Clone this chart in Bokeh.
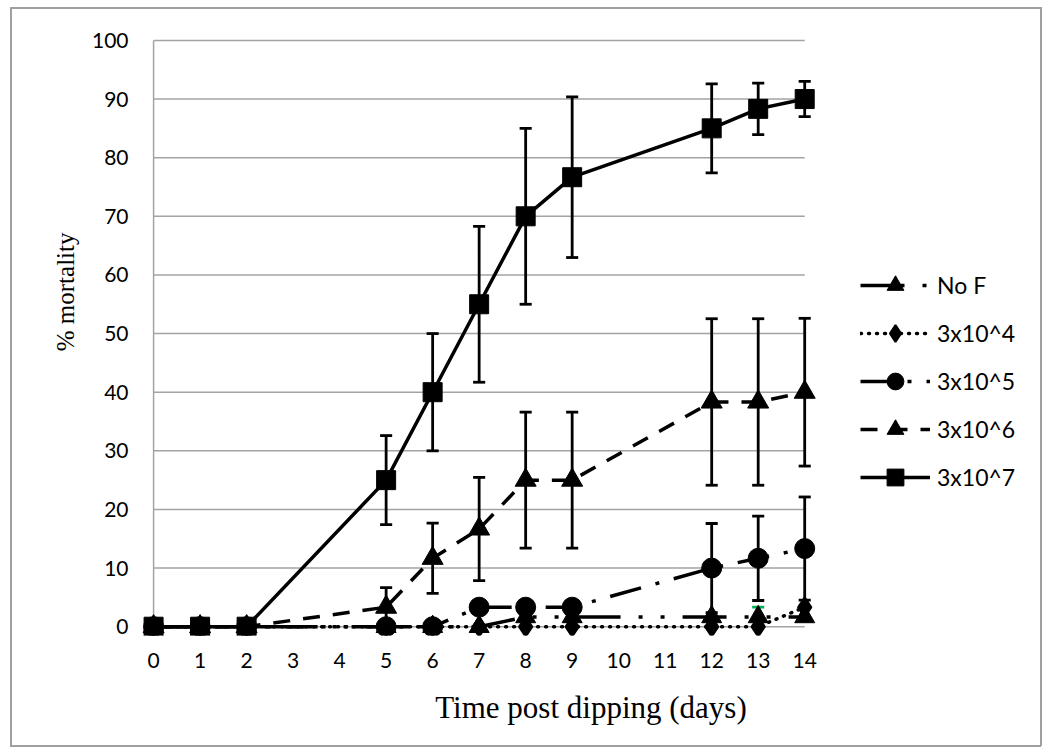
from bokeh.plotting import figure
from bokeh.models import Range1d, FixedTicker, Legend, LegendItem, Title
from bokeh.embed import file_html
from bokeh.resources import INLINE

# ---------------- data ----------------
days = [0, 1, 2, 5, 6, 7, 8, 9, 12, 13, 14]
x_ticks = list(range(0, 15))
y_ticks = [0, 10, 20, 30, 40, 50, 60, 70, 80, 90, 100]

names = ["No F", "3x10^4", "3x10^5", "3x10^6", "3x10^7"]

no_f = [0, 0, 0, 0, 0, 0, 1.67, 1.67, 1.67, 1.67, 1.67]
no_f_err = [0, 0, 0, 0, 0, 0, 0, 0, 0, 1.67, 0]

f_3e4 = [0, 0, 0, 0, 0, 0, 0, 0, 0, 0, 3.33]
f_3e4_err = [0, 0, 0, 0, 0, 0, 0, 0, 0, 0, 0]

f_3e5 = [0, 0, 0, 0, 0, 3.33, 3.33, 3.33, 10, 11.67, 13.33]
f_3e5_err = [0, 0, 0, 0, 0, 0, 0, 0, 7.6, 7.2, 8.8]

f_3e6 = [0, 0, 0, 3.33, 11.67, 16.67, 25, 25, 38.33, 38.33, 40]
f_3e6_err = [0, 0, 0, 3.33, 6, 8.8, 11.6, 11.6, 14.2, 14.2, 12.6]

f_3e7 = [0, 0, 0, 25, 40, 55, 70, 76.67, 85, 88.33, 90]
f_3e7_err = [0, 0, 0, 7.6, 10, 13.3, 15, 13.7, 7.6, 4.4, 3]

values = [no_f, f_3e4, f_3e5, f_3e6, f_3e7]
errors = [no_f_err, f_3e4_err, f_3e5_err, f_3e6_err, f_3e7_err]

# ---------------- styles ----------------
dashes = ["44 18 4 18 4 18", "1 7", "32 15 4 15", "17 13", "solid"]
caps = ["butt", "round", "butt", "butt", "butt"]
markers = ["triangle", "diamond", "circle", "triangle", "square"]
msizes = [20, 20, 20, 21, 19]
mlw = [1, 2, 1, 1, 1]
err_colors = ["#00b050", "black", "black", "black", "black"]
GRID = "#a3a3a3"
BORDER = "#a0a0a0"
TICK_FONT = "Lato"
SERIF = "Liberation Serif"

g = "linear-gradient(%s,%s)" % (BORDER, BORDER)
page_styles = {
    "background-color": "white",
    "background-image": ", ".join([g] * 4),
    "background-size": "1031px 2px, 1031px 2px, 2px 739px, 2px 739px",
    "background-position": "10px 7px, 10px 745px, 10px 7px, 1040px 7px",
    "background-repeat": "no-repeat",
}

p = figure(width=1053, height=748,
           x_range=Range1d(-0.26, 19.07), y_range=Range1d(-1.5, 100.5),
           output_backend="svg", toolbar_location=None,
           min_border_left=141, min_border_right=13,
           min_border_top=37, min_border_bottom=113,
           styles=page_styles)
p.outline_line_color = None
p.xgrid.visible = False
p.ygrid.visible = False
p.background_fill_alpha = 0
p.border_fill_alpha = 0

# axes
p.xaxis.ticker = FixedTicker(ticks=x_ticks)
p.yaxis.ticker = FixedTicker(ticks=y_ticks)
for ax in (p.xaxis, p.yaxis):
    ax.axis_line_color = None
    ax.major_tick_line_color = None
    ax.minor_tick_line_color = None
    ax.major_tick_out = 0
    ax.major_tick_in = 0
    ax.major_label_text_font = TICK_FONT
    ax.major_label_text_font_size = "21px"
    ax.major_label_text_color = "black"
p.xaxis.major_label_standoff = 17
p.yaxis.major_label_standoff = 13
p.xaxis.axis_label = "Time post dipping (days)"
p.xaxis.axis_label_text_font = SERIF
p.xaxis.axis_label_text_font_size = "31px"
p.xaxis.axis_label_text_font_style = "normal"
p.xaxis.axis_label_text_color = "black"
p.xaxis.axis_label_standoff = 19

# y axis title, placed in the left panel
p.add_layout(Title(text="% mortality", align="right", offset=195,
                   vertical_align="middle", text_font=SERIF,
                   text_font_size="25px", text_font_style="normal",
                   text_color="black", standoff=18), "left")

# gridlines from first to last day, and the vertical axis line
p.segment(x0=[days[0]] * len(y_ticks), x1=[days[-1]] * len(y_ticks),
          y0=y_ticks, y1=y_ticks, line_color=GRID, line_width=1.5)
p.segment(x0=[days[0]], x1=[days[0]], y0=[y_ticks[0]], y1=[y_ticks[-1]],
          line_color=GRID, line_width=1.5)

cap_half = 0.13
items = []
for i, name in enumerate(names):
    ys = values[i]
    es = errors[i]
    ex = [d for d, e in zip(days, es) if e > 0]
    ey = [v for v, e in zip(ys, es) if e > 0]
    ee = [e for e in es if e > 0]
    if ex:
        lo = [v - e for v, e in zip(ey, ee)]
        hi = [v + e for v, e in zip(ey, ee)]
        p.segment(x0=ex, x1=ex, y0=lo, y1=hi, line_color=err_colors[i], line_width=2.8)
        p.segment(x0=[x - cap_half for x in ex], x1=[x + cap_half for x in ex],
                  y0=hi, y1=hi, line_color=err_colors[i], line_width=2.8)
        p.segment(x0=[x - cap_half for x in ex], x1=[x + cap_half for x in ex],
                  y0=lo, y1=lo, line_color=err_colors[i], line_width=2.8)
    ln = p.line(days, ys, line_color="black", line_width=3.5,
                line_dash=dashes[i], line_cap=caps[i])
    mk = p.scatter(days, ys, marker=markers[i], size=msizes[i],
                   fill_color="black", line_color="black", line_width=mlw[i])
    items.append(LegendItem(label=name, renderers=[ln, mk]))

legend = Legend(items=items, location=(719, 137), orientation="vertical",
                glyph_width=70, glyph_height=42, spacing=6, label_standoff=7,
                padding=0, margin=0, border_line_color=None,
                background_fill_alpha=0, label_text_font=TICK_FONT,
                label_text_font_size="23px", label_text_color="black")
p.add_layout(legend, "center")

open("out.html", "w").write(file_html(p, INLINE))
